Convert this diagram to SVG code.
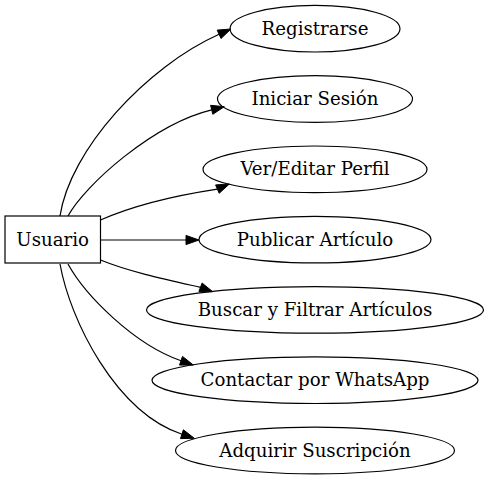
<svg xmlns="http://www.w3.org/2000/svg" width="488" height="480" viewBox="0 0 488 480">
<style>
.n{fill:none;stroke:#000;stroke-width:1.2}
.t{font-family:"DejaVu Serif","Liberation Serif",serif;font-size:18.2px;text-anchor:middle;fill:#000}
.e{fill:none;stroke:#000;stroke-width:1.2}
.a{fill:#000;stroke:#000;stroke-width:1}
</style>
<rect width="488" height="480" fill="#fff"/>
<g id="edges">
<path class="e" d="M60,216 C70,150 146,67 219.1,34.3"/>
<polygon class="a" points="231,29 221,38.5 217.2,30.1"/>
<path class="e" d="M68,216 C85,185 153,124 211.7,109.8"/>
<polygon class="a" points="224.3,106.7 212.8,114.3 210.6,105.3"/>
<path class="e" d="M100.5,220 C130,207 172,196 217.4,189.1"/>
<polygon class="a" points="229.3,184 219.2,193.3 215.6,184.9"/>
<path class="e" d="M100.5,240 L186,240"/>
<polygon class="a" points="199,240 186,235.4 186,244.6"/>
<path class="e" d="M100.5,260 C130,272 168,280 200.5,287.3"/>
<polygon class="a" points="212.7,291.7 198.9,291.6 202.1,283"/>
<path class="e" d="M68,264 C85,295 133.7,344.3 181,360.7"/>
<polygon class="a" points="193.3,365 179.5,365.1 182.5,356.4"/>
<path class="e" d="M60,264 C70,320 115.6,412.1 182,434.2"/>
<polygon class="a" points="194.3,438.3 180.5,438.6 183.4,429.8"/>
</g>
<g id="usuario"><rect class="n" x="5" y="216" width="95.5" height="47"/><text class="t" x="52.7" y="246">Usuario</text></g>
<g id="registrarse"><ellipse class="n" cx="315" cy="28.7" rx="85" ry="23.3"/><text class="t" x="315" y="34.7">Registrarse</text></g>
<g id="iniciar"><ellipse class="n" cx="315" cy="99" rx="97.5" ry="23.3"/><text class="t" x="315" y="105">Iniciar Sesión</text></g>
<g id="perfil"><ellipse class="n" cx="315" cy="169.3" rx="112" ry="23.3"/><text class="t" x="315" y="175.3">Ver/Editar Perfil</text></g>
<g id="publicar"><ellipse class="n" cx="315" cy="239.6" rx="116" ry="23.3"/><text class="t" x="315" y="245.6">Publicar Artículo</text></g>
<g id="buscar"><ellipse class="n" cx="315" cy="309.9" rx="168.5" ry="23.3"/><text class="t" x="315" y="315.9">Buscar y Filtrar Artículos</text></g>
<g id="contactar"><ellipse class="n" cx="315" cy="380.2" rx="163" ry="23.3"/><text class="t" x="315" y="386.2">Contactar por WhatsApp</text></g>
<g id="suscripcion"><ellipse class="n" cx="315" cy="450.5" rx="139.5" ry="23.3"/><text class="t" x="315" y="456.5">Adquirir Suscripción</text></g>
</svg>
